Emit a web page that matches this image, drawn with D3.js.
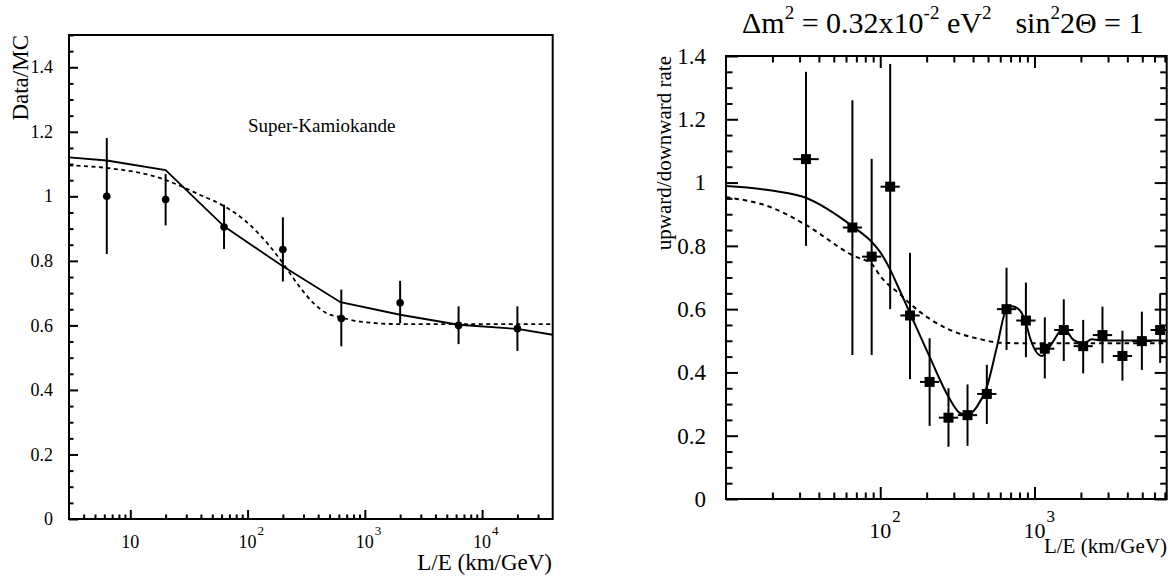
<!DOCTYPE html>
<html><head><meta charset="utf-8">
<script src="https://cdn.jsdelivr.net/npm/d3@7"></script>
<style>
html,body{margin:0;padding:0;background:#fff;}
</style></head>
<body><svg id="c" width="1173" height="577" font-family="'Liberation Serif', 'DejaVu Serif', serif"></svg>
<script>
// ---------- Left panel data (Super-Kamiokande Data/MC) ----------
const leftX      = [6.3, 20, 63, 200, 630, 2000, 6300, 20000];
const leftY      = [1.00, 0.99, 0.905, 0.835, 0.621, 0.67, 0.60, 0.59];
const leftErrLo  = [0.821, 0.910, 0.837, 0.736, 0.535, 0.607, 0.542, 0.521];
const leftErrHi  = [1.181, 1.069, 0.974, 0.935, 0.711, 0.738, 0.659, 0.659];
const leftSolidX = [3, 6.3, 20, 63, 200, 620, 2000, 6300, 20000, 40000];
const leftSolidY = [1.121, 1.111, 1.081, 0.907, 0.783, 0.672, 0.633, 0.602, 0.589, 0.571];
const leftDashX  = [3, 6.3, 17.8, 26.4, 39, 62, 97, 155, 200, 276, 365, 470, 620, 910, 2000, 40000];
const leftDashY  = [1.096, 1.088, 1.057, 1.033, 1.005, 0.971, 0.922, 0.845, 0.793, 0.721, 0.669, 0.638, 0.625, 0.612, 0.604, 0.604];
const leftYTicks = [0, 0.2, 0.4, 0.6, 0.8, 1, 1.2, 1.4];
const leftYTickLabels = ["0", "0.2", "0.4", "0.6", "0.8", "1", "1.2", "1.4"];
const leftXMajor = [10, 100, 1000, 10000];
const leftXLabelBase = ["10", "10", "10", "10"];
const leftXLabelExp  = ["", "2", "3", "4"];

// ---------- Right panel data (upward/downward rate) ----------
const rightX     = [33, 66, 88, 116, 156, 209, 277, 368, 491, 659, 880, 1167, 1549, 2069, 2760, 3718, 4970, 6530];
const rightY     = [1.074, 0.858, 0.766, 0.987, 0.580, 0.370, 0.257, 0.265, 0.332, 0.600, 0.564, 0.475, 0.534, 0.483, 0.518, 0.452, 0.499, 0.534];
const rightErrLo = [0.80, 0.455, 0.455, 0.60, 0.379, 0.231, 0.165, 0.168, 0.237, 0.471, 0.448, 0.381, 0.436, 0.397, 0.429, 0.374, 0.408, 0.43];
const rightErrHi = [1.35, 1.26, 1.075, 1.375, 0.778, 0.508, 0.350, 0.362, 0.424, 0.731, 0.684, 0.574, 0.631, 0.566, 0.608, 0.532, 0.592, 0.65];
const rightBinHalfDecades = [0.083, 0.0625, 0.0625, 0.0625, 0.0625, 0.0625, 0.0625, 0.0625, 0.0625, 0.0625, 0.0625, 0.0625, 0.0625, 0.0625, 0.0625, 0.0625, 0.0625, 0.0625];
const rightSolidX = [10, 20.3, 33, 45, 66, 89, 100, 116, 135, 156, 211, 277, 330, 368, 424, 492, 571, 662, 714, 808, 893, 938, 1117, 1297, 1542, 1790, 2080, 2357, 2667, 7200];
const rightSolidY = [0.989, 0.974, 0.952, 0.918, 0.862, 0.81, 0.78, 0.725, 0.655, 0.587, 0.445, 0.323, 0.271, 0.265, 0.292, 0.355, 0.481, 0.603, 0.609, 0.595, 0.545, 0.508, 0.452, 0.492, 0.539, 0.503, 0.492, 0.505, 0.501, 0.501];
const rightDashX = [10, 20, 33, 66, 89, 100, 135, 164, 270, 445, 600, 938, 7200];
const rightDashY = [0.954, 0.92, 0.866, 0.77, 0.74, 0.705, 0.646, 0.608, 0.539, 0.505, 0.494, 0.492, 0.492];
const rightYTicks = [0, 0.2, 0.4, 0.6, 0.8, 1, 1.2, 1.4];
const rightYTickLabels = ["0", "0.2", "0.4", "0.6", "0.8", "1", "1.2", "1.4"];
const rightXMajor = [100, 1000];
const rightXLabelBase = ["10", "10"];
const rightXLabelExp  = ["2", "3"];

const svg = d3.select("#c");

function logMinor(domain) {
  const out = [];
  for (let e = Math.floor(Math.log10(domain[0])); e <= Math.ceil(Math.log10(domain[1])); e++) {
    for (let m = 2; m <= 9; m++) {
      const v = m * Math.pow(10, e);
      if (v > domain[0] * 1.001 && v < domain[1] * 0.999) out.push(v);
    }
  }
  return out;
}
function linMinor(lo, hi, step) {
  const out = [];
  for (let v = lo; v <= hi + 1e-9; v += step) out.push(+v.toFixed(4));
  return out;
}
function tickAxis(g, axis) {
  g.call(axis);
  g.attr("font-family", null);
  g.select(".domain").remove();
  g.selectAll("line").attr("stroke", "#000").attr("stroke-width", 2);
  g.selectAll("text").remove();
}

// ================= LEFT PANEL =================
const xL = d3.scaleLog().domain([3, 40000]).range([69, 552.7]);
const yL = d3.scaleLinear().domain([0, 1.5]).range([519, 35]);
const L = svg.append("g");

tickAxis(L.append("g").attr("transform", `translate(0,${yL(0)})`),
  d3.axisBottom(xL).tickValues(leftXMajor).tickSizeInner(-9).tickSizeOuter(0).tickFormat(""));
tickAxis(L.append("g").attr("transform", `translate(0,${yL(0)})`),
  d3.axisBottom(xL).tickValues(logMinor(xL.domain()).filter(v => !leftXMajor.includes(v))).tickSizeInner(-4.5).tickSizeOuter(0).tickFormat(""));
tickAxis(L.append("g").attr("transform", `translate(${xL.range()[0]},0)`),
  d3.axisLeft(yL).tickValues(leftYTicks).tickSizeInner(-9).tickSizeOuter(0).tickFormat(""));
tickAxis(L.append("g").attr("transform", `translate(${xL.range()[0]},0)`),
  d3.axisLeft(yL).tickValues(linMinor(0, 1.5, 0.05).filter(v => Math.abs(v*5 - Math.round(v*5)) > 1e-6)).tickSizeInner(-4.5).tickSizeOuter(0).tickFormat(""));

L.append("rect").attr("x", xL.range()[0]).attr("y", yL.range()[1])
  .attr("width", xL.range()[1] - xL.range()[0]).attr("height", yL.range()[0] - yL.range()[1])
  .attr("fill", "none").attr("stroke", "#000").attr("stroke-width", 2);

L.selectAll("text.yl").data(leftYTicks).enter().append("text")
  .attr("x", 53).attr("y", d => yL(d)).attr("dy", "0.34em")
  .attr("text-anchor", "end").attr("font-size", 18)
  .text((d, i) => leftYTickLabels[i]);

leftXMajor.forEach((v, i) => {
  const t = L.append("text").attr("y", 548).attr("font-size", 18);
  if (leftXLabelExp[i] === "") {
    t.attr("x", xL(v)).attr("text-anchor", "middle").text(leftXLabelBase[i]);
  } else {
    t.attr("x", xL(v) - 9);
    t.append("tspan").text(leftXLabelBase[i]);
    t.append("tspan").attr("dy", -13).attr("dx", 1).attr("font-size", 13).text(leftXLabelExp[i]);
  }
});

L.append("text").attr("x", 552).attr("y", 570).attr("text-anchor", "end")
  .attr("font-size", 23).text("L/E (km/GeV)");
L.append("text").attr("transform", "translate(28,35) rotate(-90)")
  .attr("text-anchor", "end").attr("font-size", 23).text("Data/MC");
L.append("text").attr("x", 248).attr("y", 132).attr("font-size", 19).text("Super-Kamiokande");

L.append("path").datum(leftSolidX.map((x, i) => [x, leftSolidY[i]]))
  .attr("d", d3.line().x(d => xL(d[0])).y(d => yL(d[1])).curve(d3.curveLinear))
  .attr("fill", "none").attr("stroke", "#000").attr("stroke-width", 1.8);
L.append("path").datum(leftDashX.map((x, i) => [x, leftDashY[i]]))
  .attr("d", d3.line().x(d => xL(d[0])).y(d => yL(d[1])).curve(d3.curveMonotoneX))
  .attr("fill", "none").attr("stroke", "#000").attr("stroke-width", 1.8).attr("stroke-dasharray", "4,3.5");

const lp = leftX.map((x, i) => ({x, y: leftY[i], lo: leftErrLo[i], hi: leftErrHi[i]}));
L.selectAll("line.err").data(lp).enter().append("line")
  .attr("x1", d => xL(d.x)).attr("x2", d => xL(d.x))
  .attr("y1", d => yL(d.lo)).attr("y2", d => yL(d.hi))
  .attr("stroke", "#000").attr("stroke-width", 2);
L.selectAll("circle.pt").data(lp).enter().append("circle")
  .attr("cx", d => xL(d.x)).attr("cy", d => yL(d.y)).attr("r", 3.8).attr("fill", "#000");

// ================= RIGHT PANEL =================
const xR = d3.scaleLog().domain([10, 7200]).range([726, 1166.7]);
const yR = d3.scaleLinear().domain([0, 1.4]).range([499, 56]);
const R = svg.append("g");

const rMinorX = logMinor(xR.domain()).filter(v => !rightXMajor.includes(v));
const rMinorY = linMinor(0, 1.4, 0.05).filter(v => Math.abs(v*5 - Math.round(v*5)) > 1e-6);
tickAxis(R.append("g").attr("transform", `translate(0,${yR(0)})`),
  d3.axisBottom(xR).tickValues(rightXMajor).tickSizeInner(-12).tickSizeOuter(0).tickFormat(""));
tickAxis(R.append("g").attr("transform", `translate(0,${yR(0)})`),
  d3.axisBottom(xR).tickValues(rMinorX).tickSizeInner(-6.5).tickSizeOuter(0).tickFormat(""));
tickAxis(R.append("g").attr("transform", `translate(0,${yR.range()[1]})`),
  d3.axisTop(xR).tickValues(rightXMajor).tickSizeInner(-12).tickSizeOuter(0).tickFormat(""));
tickAxis(R.append("g").attr("transform", `translate(0,${yR.range()[1]})`),
  d3.axisTop(xR).tickValues(rMinorX).tickSizeInner(-6.5).tickSizeOuter(0).tickFormat(""));
tickAxis(R.append("g").attr("transform", `translate(${xR.range()[0]},0)`),
  d3.axisLeft(yR).tickValues(rightYTicks).tickSizeInner(-12).tickSizeOuter(0).tickFormat(""));
tickAxis(R.append("g").attr("transform", `translate(${xR.range()[0]},0)`),
  d3.axisLeft(yR).tickValues(rMinorY).tickSizeInner(-6.5).tickSizeOuter(0).tickFormat(""));
tickAxis(R.append("g").attr("transform", `translate(${xR.range()[1]},0)`),
  d3.axisRight(yR).tickValues(rightYTicks).tickSizeInner(-12).tickSizeOuter(0).tickFormat(""));
tickAxis(R.append("g").attr("transform", `translate(${xR.range()[1]},0)`),
  d3.axisRight(yR).tickValues(rMinorY).tickSizeInner(-6.5).tickSizeOuter(0).tickFormat(""));

R.append("rect").attr("x", xR.range()[0]).attr("y", yR.range()[1])
  .attr("width", xR.range()[1] - xR.range()[0]).attr("height", yR.range()[0] - yR.range()[1])
  .attr("fill", "none").attr("stroke", "#000").attr("stroke-width", 2);

R.selectAll("text.yl").data(rightYTicks).enter().append("text")
  .attr("x", 706).attr("y", d => yR(d)).attr("dy", "0.34em")
  .attr("text-anchor", "end").attr("font-size", 23)
  .text((d, i) => rightYTickLabels[i]);

rightXMajor.forEach((v, i) => {
  const t = R.append("text").attr("x", xR(v) - 11).attr("y", 538).attr("font-size", 22);
  t.append("tspan").text(rightXLabelBase[i]);
  t.append("tspan").attr("dy", -16).attr("dx", 1).attr("font-size", 17).text(rightXLabelExp[i]);
});

R.append("text").attr("x", 1167).attr("y", 553).attr("text-anchor", "end")
  .attr("font-size", 21).text("L/E (km/GeV)");
R.append("text").attr("transform", "translate(671,56) rotate(-90)")
  .attr("text-anchor", "end").attr("font-size", 21).text("upward/downward rate");

const title = R.append("text").attr("x", 742).attr("y", 33).attr("font-size", 30);
title.append("tspan").text("Δm");
title.append("tspan").attr("dy", -14).attr("font-size", 19).text("2");
title.append("tspan").attr("dy", 14).text(" = 0.32x10");
title.append("tspan").attr("dy", -14).attr("font-size", 19).text("-2");
title.append("tspan").attr("dy", 14).text(" eV");
title.append("tspan").attr("dy", -14).attr("font-size", 19).text("2");
title.append("tspan").attr("dy", 14).attr("dx", 24).text("sin");
title.append("tspan").attr("dy", -14).attr("font-size", 19).text("2");
title.append("tspan").attr("dy", 14).text("2Θ = 1");

R.append("path").datum(rightSolidX.map((x, i) => [x, rightSolidY[i]]))
  .attr("d", d3.line().x(d => xR(d[0])).y(d => yR(d[1])).curve(d3.curveMonotoneX))
  .attr("fill", "none").attr("stroke", "#000").attr("stroke-width", 2);
R.append("path").datum(rightDashX.map((x, i) => [x, rightDashY[i]]))
  .attr("d", d3.line().x(d => xR(d[0])).y(d => yR(d[1])).curve(d3.curveMonotoneX))
  .attr("fill", "none").attr("stroke", "#000").attr("stroke-width", 2).attr("stroke-dasharray", "4.5,4");

const rp = rightX.map((x, i) => ({x, y: rightY[i], lo: rightErrLo[i], hi: rightErrHi[i], hw: rightBinHalfDecades[i]}));
R.selectAll("line.ev").data(rp).enter().append("line")
  .attr("x1", d => xR(d.x)).attr("x2", d => xR(d.x))
  .attr("y1", d => yR(d.lo)).attr("y2", d => yR(d.hi))
  .attr("stroke", "#000").attr("stroke-width", 2);
R.selectAll("line.eh").data(rp).enter().append("line")
  .attr("x1", d => xR(d.x / Math.pow(10, d.hw))).attr("x2", d => xR(Math.min(d.x * Math.pow(10, d.hw), 7200)))
  .attr("y1", d => yR(d.y)).attr("y2", d => yR(d.y))
  .attr("stroke", "#000").attr("stroke-width", 2);
R.selectAll("rect.pt").data(rp).enter().append("rect")
  .attr("x", d => xR(d.x) - 5).attr("y", d => yR(d.y) - 5)
  .attr("width", 10).attr("height", 10).attr("fill", "#000");
</script></body></html>
